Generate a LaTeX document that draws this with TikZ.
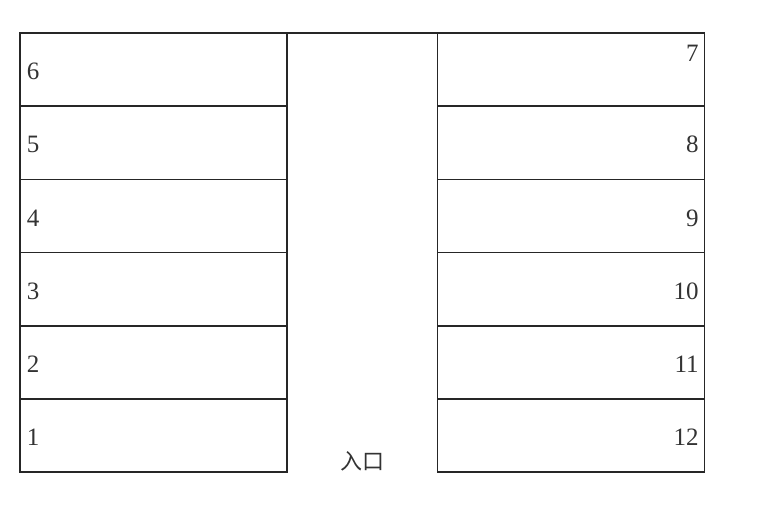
\documentclass[tikz,border=0pt]{standalone}
\usepackage{fontspec}
\setmainfont{Liberation Serif}
\newfontfamily\cjk{Noto Sans CJK SC}
\begin{document}
\begin{tikzpicture}[x=1pt,y=-1pt,line width=1.6pt,draw=black!85]
	\useasboundingbox (0,0) rectangle (760,529);
	\tikzset{stall/.style={draw, rectangle, minimum width=267pt, minimum height=73.2pt, inner sep=0pt, outer sep=0pt},
		num/.style={font=\fontsize{25}{25}\selectfont, inner sep=0pt, text=black!80}}

	% draw left stalls
	\foreach \s in {1,...,6}
	{
		\node[stall] (l_\s) at (153.5,69.6 + 73.2 * 6 - 73.2 * \s) {};
		\node[num, anchor=west] (ln_\s) at ([xshift=6pt,yshift=-2pt]l_\s.west) {\s};
	}

	% draw right stalls
	\foreach \s in {7,...,12}
	{
		\node[stall] (r_\s) at (571,69.6 + 73.2 * \s - 73.2 * 7) {};
	}
	\foreach \s in {8,...,12}
	{
		\node[num, anchor=east] (rn_\s) at ([xshift=-5pt,yshift=-2pt]r_\s.east) {\s};
	}
	\node[num, anchor=north east] (rn_7) at ([xshift=-5pt,yshift=-11pt]r_7.north east) {7};

	% draw corridor
	\draw (l_6.north east) -- (r_7.north west);
	\node[font=\cjk\fontsize{22}{22}\selectfont, text=black!80] (entry) at (362,461) {入口};

\end{tikzpicture}
\end{document}
